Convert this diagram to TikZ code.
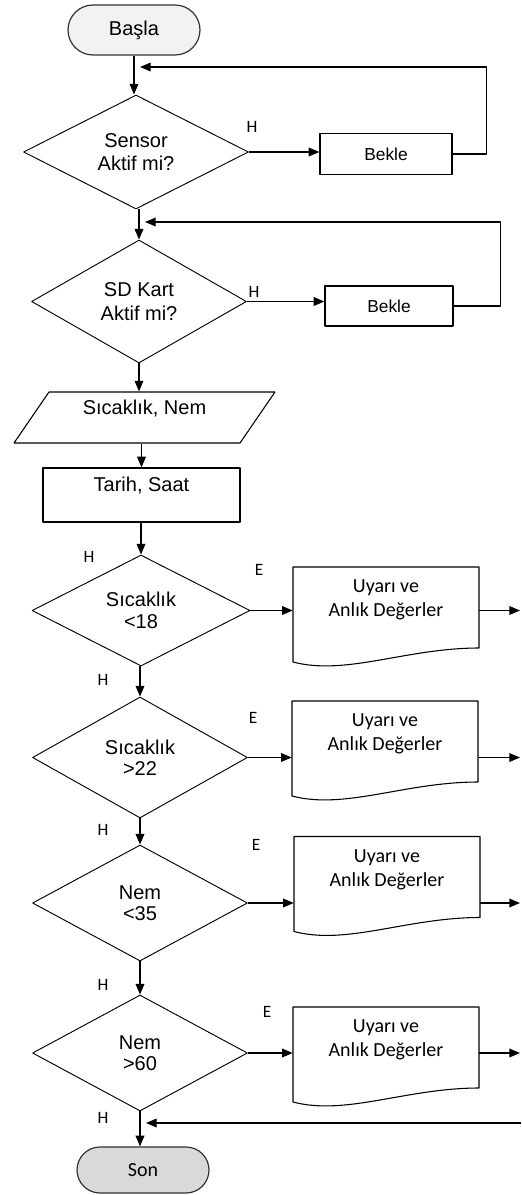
\documentclass[tikz,border=0pt]{standalone}
\usepackage{fontspec}
\setmainfont{Liberation Sans}
\newfontfamily\carlito{Carlito}
\usepackage{tikz}
\usetikzlibrary{arrows.meta, calc, shapes.geometric, shapes.misc}

% outline of a document symbol round a text node
\newcommand{\belgecizgi}[1]{%
  \draw[line width=.8pt] ($(#1)+(-93,-33)$) -- ($(#1)+(93,-33)$) -- ($(#1)+(93,48)$)
    .. controls ($(#1)+(20,48)$) and ($(#1)+(-40,76)$) .. ($(#1)+(-93,62)$) -- cycle;}

\begin{document}
\begin{tikzpicture}[x=.75pt,y=-.75pt,>={Triangle[length=8pt,width=6.5pt]},line join=bevel,
  every node/.style={inner sep=0pt},
  terminal/.style={rounded rectangle, draw=black!80, line width=.9pt, minimum width=99pt},
  karar/.style={diamond, aspect=2, draw, line width=.7pt, align=center,
    font=\fontsize{15}{17.5}\selectfont},
  karar2/.style={karar, font=\fontsize{15}{16}\selectfont},
  kutu/.style={rectangle, draw, line width=.9pt},
  belge/.style={align=center, minimum width=139.5pt, font=\carlito\fontsize{15}{18}\selectfont},
  etiket/.style={font=\carlito\fontsize{13}{15}\selectfont},
  ok/.style={->, line width=1pt}]
\useasboundingbox (0,0) rectangle (521,1195);
%%
  % Node: basla
  \node[terminal, fill=gray!10, minimum height=37.5pt, font=\fontsize{15}{18}\selectfont] (basla) at (134,30) {Başla};
  % Node: d1
  \node[karar, minimum width=168.75pt, minimum height=85.5pt] (d1) at (136,152) {Sensor\\Aktif mi?};
  \node[kutu, minimum width=99pt, minimum height=30.75pt, font=\fontsize{13}{15}\selectfont] (b1) at (386,154) {Bekle};
  \node[etiket] (h1) at (252,127) {H};
  % Node: d2
  \node[karar, minimum width=161.25pt, minimum height=92.25pt] (d2) at (139,301.5) {SD Kart\\Aktif mi?};
  \node[kutu, minimum width=96pt, minimum height=30pt, font=\fontsize{13}{15}\selectfont] (b2) at (389,306) {Bekle};
  \node[etiket] (h2) at (254,292) {H};
  % Node: giris
  \node[trapezium, trapezium left angle=45, trapezium right angle=135, trapezium stretches body,
    draw, line width=.8pt, minimum width=195.75pt, minimum height=38.25pt,
    text height=10.5pt, text depth=15.75pt, font=\fontsize{15}{18}\selectfont] (giris) at (144.5,417.5) {Sıcaklık, Nem};
  % Node: zaman
  \node[kutu, minimum width=147.75pt, minimum height=40.5pt,
    text height=10.5pt, text depth=16.5pt, font=\fontsize{15}{18}\selectfont] (zaman) at (141.5,495) {Tarih, Saat};
  % Node: d3 .. d6
  \node[karar2, minimum width=163.5pt, minimum height=83.25pt] (d3) at (141,610.5) {Sıcaklık\\<18};
  \node[karar2, minimum width=161.25pt, minimum height=90.75pt] (d4) at (140,757.5) {Sıcaklık\\>22};
  \node[karar2, minimum width=161.25pt, minimum height=87pt] (d5) at (140,903) {Nem\\<35};
  \node[karar2, minimum width=161.25pt, minimum height=87pt] (d6) at (140,1053) {Nem\\>60};
  % Node: u1 .. u4
  \node[belge] (u1) at (386,600) {Uyarı ve\\Anlık Değerler};
  \node[belge] (u2) at (385,734) {Uyarı ve\\Anlık Değerler};
  \node[belge] (u3) at (387,869.5) {Uyarı ve\\Anlık Değerler};
  \node[belge] (u4) at (386,1040) {Uyarı ve\\Anlık Değerler};
  \belgecizgi{u1}
  \belgecizgi{u2}
  \belgecizgi{u3}
  \belgecizgi{u4}
  % Node: son
  \node[terminal, fill=gray!30, minimum height=34.5pt, font=\carlito\fontsize{15}{18}\selectfont] (son) at (143,1170) {Son};
  % labels
  \node[etiket] (h3) at (89,557) {H};
  \node[etiket] (h4) at (103,680) {H};
  \node[etiket] (h5) at (103,830) {H};
  \node[etiket] (h6) at (103,985) {H};
  \node[etiket] (h7) at (103,1118) {H};
  \node[etiket] (e3) at (259,570) {E};
  \node[etiket] (e4) at (253,718) {E};
  \node[etiket] (e5) at (256,845) {E};
  \node[etiket] (e6) at (267,1012) {E};
  % free ends
  \coordinate (j1) at (140,67);
  \coordinate (j2) at (145,222);
  \coordinate (j3) at (146,1123);
  \coordinate (geri) at (521,1123);
  \coordinate (sag) at (520,0);
%%
  % Edge: basla -- d1
  \draw[ok] (basla.south) -- (basla.south |- d1.north);
  % Edge: d1 -- b1, b1 -- j1
  \draw[ok] (d1.east) -- (d1.east -| b1.west);
  \draw[ok] (b1.east) -- ++(34,0) |- (j1);
  % Edge: d1 -- d2
  \draw[ok] (d2.north |- d1.south) -- (d2.north);
  % Edge: d2 -- b2, b2 -- j2
  \draw[ok] (d2.east) -- (d2.east -| b2.west);
  \draw[ok] (b2.east) -- ++(47,0) |- (j2);
  % Edge: d2 -- giris -- zaman -- d3
  \draw[ok] (d2.south) -- (d2.south |- giris.north);
  \draw[ok] (zaman.north |- giris.south) -- (zaman.north);
  \draw[ok] (d3.north |- zaman.south) -- (d3.north);
  % Edge: d3 -- d4 -- d5 -- d6 -- son
  \draw[ok] (d4.north |- d3.south) -- (d4.north);
  \draw[ok] (d5.north |- d4.south) -- (d5.north);
  \draw[ok] (d6.north |- d5.south) -- (d6.north);
  \draw[ok] (d6.south) -- (d6.south |- son.north);
  % Edge: dk -- uk -- sag
  \foreach \d/\u in {d3/u1, d4/u2, d5/u3, d6/u4}{
    \draw[ok] (\d.east) -- (\d.east -| \u.west);
    \draw[ok] (\u.east |- \d.east) -- (sag |- \d.east);
  }
  % Edge: geri -- j3
  \draw[ok] (geri) -- (j3);
%
\end{tikzpicture}
\end{document}
